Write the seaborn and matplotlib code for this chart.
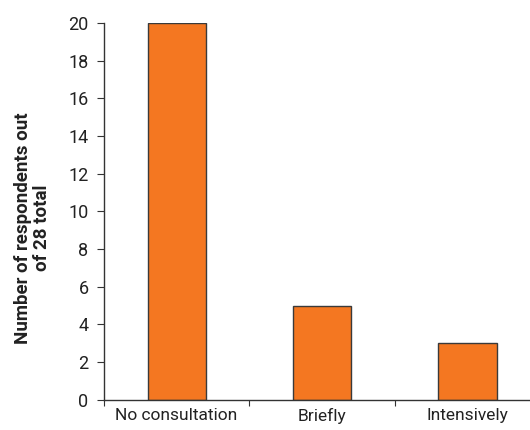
import matplotlib
matplotlib.use("Agg")
import matplotlib.pyplot as plt
import seaborn as sns
import pandas as pd

# data
categories = ["No consultation", "Briefly", "Intensively"]
respondents = [20, 5, 3]

df = pd.DataFrame({"category": categories, "count": respondents})

sns.set_style("ticks")
plt.rcParams["font.family"] = ["Roboto", "DejaVu Sans"]

fig = plt.figure(figsize=(5.3, 4.3), dpi=100)
ax = fig.add_axes([0.196, 0.070, 0.804, 0.877])

sns.barplot(data=df, x="category", y="count", color="#F47721", saturation=1,
            width=0.4, edgecolor="#3a3a3a", linewidth=1.0, ax=ax)

ax.set_ylim(0, 20)
ax.set_yticks(range(0, 21, 2))
ax.set_xlim(-0.5, 2.43)
# category ticks sit on the boundaries between groups
ax.set_xticks([-0.5, 0.5, 1.5], minor=False)
ax.set_xticklabels([])
ax.set_xticks([0, 1, 2], minor=True)
ax.set_xticklabels(categories, minor=True, fontsize=12.5, color="#222222")
ax.tick_params(axis="x", which="minor", length=0, pad=6)
ax.tick_params(axis="x", which="major", direction="out", length=4, color="#333333")
ax.tick_params(axis="y", direction="out", length=5, color="#333333", labelsize=13,
               labelcolor="#222222", pad=6)

ax.set_xlabel("")
ax.set_ylabel("Number of respondents out\nof 28 total", fontsize=13.5, fontweight="bold",
              color="#222222", linespacing=1.05, multialignment="center")
ax.yaxis.set_label_coords(-0.125, 0.456)

for side in ["top", "right"]:
    ax.spines[side].set_visible(False)
for side in ["left", "bottom"]:
    ax.spines[side].set_color("#333333")
    ax.spines[side].set_linewidth(1.0)

fig.savefig("out.png", dpi=100)
